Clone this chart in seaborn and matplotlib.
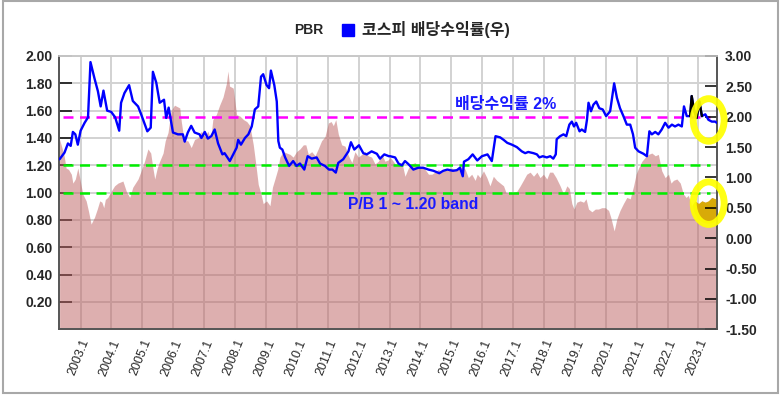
import matplotlib
matplotlib.use("Agg")
import matplotlib.pyplot as plt
from matplotlib.patches import Ellipse, Rectangle
import seaborn as sns
import pandas as pd

# PBR (left axis), decimal year -> value
pbr_years = [2002.32, 2002.37, 2002.46, 2002.53, 2002.61, 2002.70, 2002.75, 2002.83, 2002.91, 2002.97,
             2003.07, 2003.18, 2003.26, 2003.34, 2003.45, 2003.54, 2003.62, 2003.69, 2003.75, 2003.80,
             2003.88, 2003.99, 2004.10, 2004.21, 2004.37, 2004.48, 2004.59, 2004.69, 2004.86, 2004.96,
             2005.07, 2005.18, 2005.27, 2005.34, 2005.40, 2005.48, 2005.56, 2005.67, 2005.74, 2005.83,
             2005.93, 2006.04, 2006.21, 2006.26, 2006.35, 2006.47, 2006.58, 2006.69, 2006.80, 2006.91,
             2007.02, 2007.12, 2007.21, 2007.28, 2007.39, 2007.50, 2007.61, 2007.72, 2007.77, 2007.82,
             2007.94, 2008.05, 2008.16, 2008.27, 2008.38, 2008.48, 2008.59, 2008.67, 2008.75, 2008.84,
             2008.91, 2009.02, 2009.13, 2009.21, 2009.29, 2009.38, 2009.45, 2009.56, 2009.67, 2009.78,
             2009.88, 2009.99, 2010.10, 2010.21, 2010.29, 2010.37, 2010.48, 2010.59, 2010.69, 2010.80,
             2010.91, 2011.02, 2011.11, 2011.18, 2011.26, 2011.34, 2011.45, 2011.56, 2011.67, 2011.78,
             2011.88, 2011.99, 2012.10, 2012.21, 2012.31, 2012.42, 2012.53, 2012.64, 2012.75, 2012.85,
             2012.96, 2013.02, 2013.12, 2013.23, 2013.40, 2013.50, 2013.61, 2013.72, 2013.83, 2013.93,
             2014.04, 2014.15, 2014.26, 2014.37, 2014.47, 2014.58, 2014.69, 2014.80, 2014.90, 2015.01,
             2015.12, 2015.23, 2015.34, 2015.45, 2015.55, 2015.66, 2015.77, 2015.84, 2015.93, 2016.04,
             2016.15, 2016.25, 2016.36, 2016.47, 2016.58, 2016.69, 2016.77, 2016.88, 2017.01, 2017.12,
             2017.23, 2017.33, 2017.44, 2017.55, 2017.66, 2017.77, 2017.87, 2017.98, 2018.09, 2018.18,
             2018.28, 2018.39, 2018.52, 2018.63, 2018.74, 2018.82, 2018.90, 2018.97, 2019.06, 2019.17,
             2019.28, 2019.36, 2019.44, 2019.55, 2019.66, 2019.76, 2019.87, 2019.98, 2020.09, 2020.16,
             2020.27, 2020.36, 2020.46, 2020.57, 2020.68, 2020.79, 2020.90, 2020.98, 2021.06, 2021.17,
             2021.28, 2021.38, 2021.49, 2021.60, 2021.70, 2021.81, 2021.92, 2022.03, 2022.11, 2022.19,
             2022.30, 2022.41, 2022.51, 2022.60, 2022.67, 2022.78, 2022.89, 2023.00, 2023.11, 2023.22,
             2023.32, 2023.43, 2023.54, 2023.59]
pbr = [1.39, 1.35, 1.28, 1.18, 1.17, 1.135, 1.07, 1.10, 1.18, 1.11,
       0.99, 0.94, 0.86, 0.77, 0.82, 0.88, 0.94, 0.93, 0.89, 0.95,
       0.965, 1.01, 1.05, 1.07, 1.085, 1.01, 0.965, 1.04, 1.10, 1.16,
       1.23, 1.32, 1.29, 1.18, 1.10, 1.18, 1.23, 1.29, 1.38, 1.44,
       1.60, 1.64, 1.62, 1.52, 1.38, 1.38, 1.33, 1.39, 1.40, 1.45,
       1.41, 1.45, 1.39, 1.535, 1.57, 1.64, 1.70, 1.80, 1.89, 1.78,
       1.765, 1.57, 1.56, 1.535, 1.52, 1.49, 1.35, 1.21, 1.06, 0.99,
       0.92, 0.94, 0.905, 1.04, 1.10, 1.17, 1.26, 1.30, 1.29, 1.28,
       1.26, 1.30, 1.32, 1.35, 1.35, 1.28, 1.30, 1.27, 1.32, 1.38,
       1.41, 1.51, 1.52, 1.49, 1.535, 1.43, 1.35, 1.34, 1.27, 1.22,
       1.30, 1.26, 1.28, 1.30, 1.27, 1.26, 1.21, 1.23, 1.28, 1.23,
       1.24, 1.26, 1.23, 1.195, 1.22, 1.12, 1.18, 1.21, 1.22, 1.18,
       1.195, 1.17, 1.135, 1.135, 1.15, 1.17, 1.15, 1.17, 1.16, 1.18,
       1.17, 1.17, 1.195, 1.17, 1.11, 1.135, 1.09, 1.135, 1.11, 1.16,
       1.11, 1.05, 1.12, 1.09, 1.07, 1.05, 1.00, 1.00, 1.00, 1.01,
       1.05, 1.09, 1.135, 1.15, 1.12, 1.15, 1.11, 1.135, 1.10, 1.15,
       1.15, 1.11, 1.05, 0.99, 1.05, 1.03, 0.92, 0.88, 0.93, 0.94,
       0.93, 0.955, 0.88, 0.86, 0.88, 0.88, 0.89, 0.89, 0.87, 0.82,
       0.72, 0.81, 0.87, 0.92, 0.965, 0.955, 1.05, 1.135, 1.18, 1.23,
       1.26, 1.28, 1.29, 1.27, 1.28, 1.16, 1.11, 1.135, 1.07, 1.09,
       1.10, 1.07, 0.99, 0.965, 0.98, 0.905, 0.94, 0.92, 0.94, 0.93,
       0.94, 0.965, 0.955, 0.955]

# KOSPI dividend yield (right axis, %)
div_years = [2002.32, 2002.48, 2002.59, 2002.68, 2002.75, 2002.83, 2002.91, 2003.00, 2003.13, 2003.24,
             2003.32, 2003.45, 2003.56, 2003.65, 2003.74, 2003.86, 2003.99, 2004.12, 2004.25, 2004.31,
             2004.42, 2004.57, 2004.69, 2004.86, 2004.96, 2005.16, 2005.27, 2005.34, 2005.45, 2005.56,
             2005.70, 2005.77, 2005.85, 2005.99, 2006.15, 2006.31, 2006.37, 2006.47, 2006.58, 2006.69,
             2006.85, 2006.91, 2007.02, 2007.12, 2007.23, 2007.34, 2007.45, 2007.59, 2007.66, 2007.83,
             2007.94, 2008.05, 2008.10, 2008.19, 2008.32, 2008.43, 2008.54, 2008.64, 2008.75, 2008.84,
             2008.91, 2009.02, 2009.10, 2009.16, 2009.27, 2009.35, 2009.40, 2009.45, 2009.53, 2009.62,
             2009.75, 2009.88, 2009.99, 2010.10, 2010.24, 2010.35, 2010.48, 2010.64, 2010.75, 2010.91,
             2011.04, 2011.15, 2011.26, 2011.34, 2011.50, 2011.67, 2011.75, 2011.86, 2012.01, 2012.15,
             2012.26, 2012.42, 2012.59, 2012.69, 2012.83, 2012.98, 2013.02, 2013.18, 2013.29, 2013.40,
             2013.50, 2013.61, 2013.77, 2013.93, 2014.09, 2014.26, 2014.42, 2014.61, 2014.74, 2014.87,
             2015.05, 2015.18, 2015.28, 2015.37, 2015.41, 2015.55, 2015.69, 2015.84, 2015.99, 2016.17,
             2016.31, 2016.43, 2016.58, 2016.69, 2016.81, 2016.96, 2017.12, 2017.28, 2017.39, 2017.49,
             2017.66, 2017.77, 2017.85, 2017.96, 2018.09, 2018.20, 2018.30, 2018.38, 2018.41, 2018.52,
             2018.63, 2018.72, 2018.82, 2018.90, 2018.97, 2019.04, 2019.15, 2019.22, 2019.33, 2019.39,
             2019.44, 2019.52, 2019.60, 2019.69, 2019.79, 2019.90, 2020.01, 2020.14, 2020.27, 2020.36,
             2020.46, 2020.57, 2020.68, 2020.79, 2020.88, 2020.95, 2021.06, 2021.22, 2021.33, 2021.41,
             2021.49, 2021.60, 2021.70, 2021.81, 2021.92, 2022.03, 2022.14, 2022.24, 2022.35, 2022.46,
             2022.53, 2022.62, 2022.73, 2022.78, 2022.85, 2022.94, 2023.03, 2023.11, 2023.22, 2023.32,
             2023.43, 2023.54, 2023.59]
div_yield = [1.30, 1.41, 1.56, 1.52, 1.75, 1.71, 1.54, 1.77, 1.90, 1.99,
             2.90, 2.63, 2.42, 2.17, 2.43, 2.10, 2.08, 1.99, 1.77, 2.23,
             2.39, 2.52, 2.26, 2.17, 2.04, 1.76, 1.82, 2.74, 2.56, 2.23,
             2.28, 1.98, 2.15, 1.74, 1.71, 1.71, 1.59, 1.74, 1.85, 1.74,
             1.71, 1.65, 1.75, 1.64, 1.68, 1.79, 1.56, 1.38, 1.40, 1.27,
             1.38, 1.49, 1.62, 1.54, 1.65, 1.71, 1.84, 2.12, 2.17, 2.66,
             2.70, 2.52, 2.47, 2.76, 2.52, 2.25, 1.60, 1.49, 1.46, 1.33,
             1.19, 1.27, 1.19, 1.23, 1.13, 1.35, 1.31, 1.33, 1.23, 1.19,
             1.13, 1.13, 1.08, 1.24, 1.30, 1.43, 1.58, 1.46, 1.53, 1.40,
             1.38, 1.43, 1.39, 1.31, 1.38, 1.35, 1.35, 1.33, 1.23, 1.20,
             1.27, 1.22, 1.13, 1.16, 1.16, 1.13, 1.11, 1.07, 1.11, 1.13,
             1.11, 1.12, 1.16, 1.02, 1.26, 1.30, 1.38, 1.28, 1.35, 1.38,
             1.27, 1.68, 1.66, 1.62, 1.57, 1.54, 1.50, 1.43, 1.40, 1.42,
             1.40, 1.38, 1.33, 1.35, 1.33, 1.35, 1.31, 1.38, 1.63, 1.68,
             1.71, 1.68, 1.87, 1.92, 1.84, 1.90, 1.76, 1.79, 1.75, 1.95,
             2.23, 2.09, 2.20, 2.25, 2.14, 2.12, 2.01, 2.09, 2.55, 2.31,
             2.14, 2.01, 1.87, 1.87, 1.71, 1.49, 1.43, 1.39, 1.35, 1.76,
             1.71, 1.75, 1.71, 1.79, 1.90, 1.82, 1.87, 1.84, 1.87, 1.84,
             2.17, 2.01, 2.01, 2.34, 2.12, 1.98, 2.25, 2.01, 2.04, 1.95,
             1.92, 1.92, 1.90]

year_ticks = list(range(2003, 2024))
year_labels = [f"{y}.1" for y in year_ticks]
left_ticks = [0.2, 0.4, 0.6, 0.8, 1.0, 1.2, 1.4, 1.6, 1.8, 2.0]
right_ticks = [-1.5, -1.0, -0.5, 0.0, 0.5, 1.0, 1.5, 2.0, 2.5, 3.0]

pbr_df = pd.DataFrame({"year": pbr_years, "pbr": pbr})
div_df = pd.DataFrame({"year": div_years, "yield": div_yield})

sns.set_style("white")
plt.rcParams["font.family"] = ["Liberation Sans", "Noto Sans CJK KR"]

fig = plt.figure(figsize=(7.81, 3.98), dpi=100)
ax = fig.add_axes([0.0759, 0.1726, 0.8418, 0.6867])
ax2 = ax.twinx()

# PBR area
ax.fill_between(pbr_df["year"], 0, pbr_df["pbr"], color="#bd6161", alpha=0.5, lw=0, zorder=2)
ax.set_xlim(2002.31, 2023.59)
ax.set_ylim(0, 2.0)
ax.set_xticks(year_ticks)
ax.set_xticklabels(year_labels, rotation=68, ha="right", rotation_mode="anchor", fontsize=9)
ax.set_yticks(left_ticks)
ax.set_yticklabels([f"{v:.2f}" for v in left_ticks], fontsize=10, fontweight="bold")
ax.grid(True, color="#d2d2d2", lw=1.4, zorder=1)
ax.set_axisbelow(True)
ax.tick_params(axis="both", direction="in", length=9, width=1.1, color="black")
ax.tick_params(axis="x", pad=6)
ax.tick_params(axis="y", pad=5)

# reference lines
ax.axhline(1.555, xmin=0.006, xmax=0.99, color="#ff00ff", lw=1.8, ls=(0, (4, 2.6)), zorder=3)
ax.axhline(1.2, xmin=0.006, xmax=0.99, color="#00ee00", lw=1.8, ls=(0, (4, 2.6)), zorder=3)
ax.axhline(1.0, xmin=0.006, xmax=0.99, color="#00ee00", lw=1.8, ls=(0, (4, 2.6)), zorder=3)

# dividend yield line (right axis)
sns.lineplot(data=div_df, x="year", y="yield", ax=ax2, color="#0000ff", lw=1.7,
             estimator=None, sort=False, zorder=4)
hl = div_df[(div_df["year"] >= 2022.73) & (div_df["year"] <= 2023.12)]
sns.lineplot(data=hl, x="year", y="yield", ax=ax2, color="black", lw=1.7,
             estimator=None, sort=False, zorder=5)
ax2.set_ylim(-1.5, 3.0)
ax2.set_yticks(right_ticks)
ax2.set_yticklabels([f"{v:.2f}" for v in right_ticks], fontsize=10, fontweight="bold")
ax2.tick_params(axis="y", direction="in", length=9, width=1.1, color="black", pad=6)
ax2.set_xlabel("")
ax2.set_ylabel("")
ax.set_xlabel("")
ax.set_ylabel("")

for a in (ax, ax2):
    for side in ("left", "right", "bottom"):
        a.spines[side].set_color("#555555")
        a.spines[side].set_linewidth(1.2)
    a.spines["top"].set_color("#c8c8c8")
    a.spines["top"].set_linewidth(1.2)

# yellow highlight marks
gold_clip = Ellipse((2023.32, 0.923), 1.0, 0.3, transform=ax.transData)
gold = ax.fill_between(pbr_df["year"], 0, pbr_df["pbr"], color="#d8aa08", lw=0, zorder=3)
gold.set_clip_path(gold_clip)
for cy in (1.947, 0.577):
    ax2.add_patch(Ellipse((2023.33, cy), 1.0, 0.7, fill=False, edgecolor="#ffff00",
                          lw=5, alpha=0.92, zorder=6, clip_on=False))

# annotations
ax.text(2016.77, 1.645, "배당수익률 2%", color="#1a1aff", fontsize=11.5, fontweight="bold",
        ha="center", va="center", zorder=6)
ax.text(2013.78, 0.91, "P/B 1 ~ 1.20 band", color="#1a1aff", fontsize=11.3, fontweight="bold",
        ha="center", va="center", zorder=6)

# legend
fig.text(294 / 781, 1 - 30 / 398, "PBR", fontsize=10, fontweight="bold", va="center", ha="left")
fig.patches.append(Rectangle((342 / 781, 1 - 36 / 398), 12 / 781, 12 / 398,
                             transform=fig.transFigure, color="#0000ff", figure=fig))
fig.text(362 / 781, 1 - 30 / 398, "코스피 배당수익률(우)", fontsize=11.5, fontweight="bold",
         va="center", ha="left")

# outer frame
fig.patches.append(Rectangle((3 / 781, 5 / 398), 775 / 781, 392 / 398, transform=fig.transFigure,
                             fill=False, edgecolor="#a8a8a8", lw=1.5, figure=fig))

fig.savefig("out.png", dpi=100)
